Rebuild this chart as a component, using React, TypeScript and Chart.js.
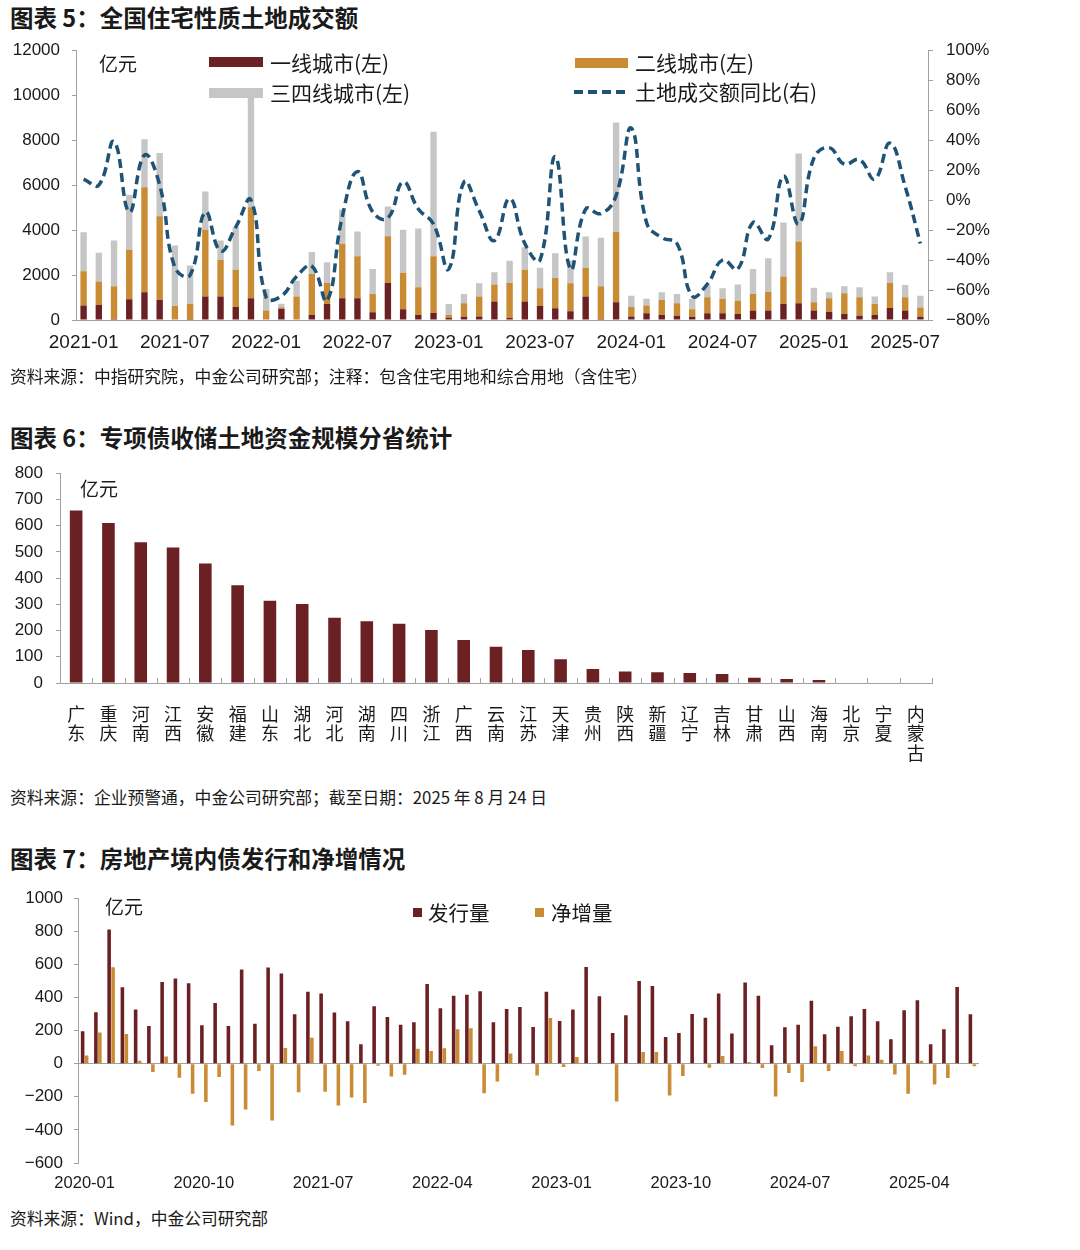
import React, { useEffect, useRef } from 'react';
import { Chart, registerables } from 'chart.js';

Chart.register(...registerables);

const FONT = "'Liberation Sans', 'Noto Sans CJK SC', sans-serif";
const CJK = "'Noto Sans CJK SC', 'Liberation Sans', sans-serif";
const DARK = '#6b2023';
const GOLD = '#c98b34';
const GREY = '#c6c6c6';
const LINE = '#1f5375';
const AXIS = '#a0a0a0';
const TEXT = '#1a1a1a';

// ---------- Chart 5: land transaction value ----------
const months1 = [
  '2021-01','2021-02','2021-03','2021-04','2021-05','2021-06','2021-07','2021-08','2021-09','2021-10','2021-11','2021-12',
  '2022-01','2022-02','2022-03','2022-04','2022-05','2022-06','2022-07','2022-08','2022-09','2022-10','2022-11','2022-12',
  '2023-01','2023-02','2023-03','2023-04','2023-05','2023-06','2023-07','2023-08','2023-09','2023-10','2023-11','2023-12',
  '2024-01','2024-02','2024-03','2024-04','2024-05','2024-06','2024-07','2024-08','2024-09','2024-10','2024-11','2024-12',
  '2025-01','2025-02','2025-03','2025-04','2025-05','2025-06','2025-07','2025-08',
];
const tier1 = [
  640, 670, 40, 920, 1230, 890, 20, 10, 1050, 1050, 580, 970,
  0, 490, 0, 220, 710, 970, 970, 340, 1650, 480, 220, 310,
  90, 150, 160, 820, 90, 820, 620, 520, 390, 1050, 50, 790,
  160, 300, 220, 190, 150, 300, 300, 270, 420, 420, 710, 740,
  420, 370, 270, 190, 220, 530, 420, 150,
];
const tier2 = [
  1530, 1040, 1460, 2200, 4670, 3730, 600, 700, 2960, 1620, 1660, 4050,
  420, 80, 1050, 1830, 940, 2420, 1870, 820, 2080, 1620, 1240, 2530,
  130, 590, 880, 760, 1560, 1410, 790, 1350, 1240, 1270, 1450, 3120,
  430, 340, 670, 550, 330, 710, 640, 590, 740, 840, 1220, 2750,
  370, 600, 920, 820, 490, 1120, 590, 410,
];
const tier34 = [
  1730, 1280, 2040, 2450, 2140, 2810, 2690, 1710, 1710, 870, 1890, 4930,
  960, 150, 700, 970, 920, 1530, 1100, 1110, 1320, 1910, 2610, 5530,
  490, 420, 590, 540, 990, 1010, 910, 1100, 1010, 1390, 2160, 4870,
  490, 300, 340, 420, 460, 520, 470, 720, 1110, 1490, 2410, 3910,
  640, 260, 310, 450, 340, 470, 550, 520,
];
const landYoY = [
  14, 10, 39, -8, 30, 10, -45, -50, -8, -34, -18, 0,
  -65, -64, -51, -44, -67, -11, 19, -8, -12, 12, -6, -16,
  -46, 12, -7, -27, 1, -29, -40, 29, -46, -6, -9, 3,
  48, -15, -25, -29, -64, -56, -40, -46, -15, -26, 16, -16,
  28, 35, 24, 27, 14, 38, 9, -29,
];

// ---------- Chart 6: special bonds by province ----------
const provinces = [
  ['广', '东'], ['重', '庆'], ['河', '南'], ['江', '西'], ['安', '徽'], ['福', '建'], ['山', '东'],
  ['湖', '北'], ['河', '北'], ['湖', '南'], ['四', '川'], ['浙', '江'], ['广', '西'], ['云', '南'],
  ['江', '苏'], ['天', '津'], ['贵', '州'], ['陕', '西'], ['新', '疆'], ['辽', '宁'], ['吉', '林'],
  ['甘', '肃'], ['山', '西'], ['海', '南'], ['北', '京'], ['宁', '夏'], ['内', '蒙', '古'],
];
const provinceFunds = [
  658, 610, 537, 517, 456, 373, 314, 301, 249, 235, 226, 202, 164, 138,
  126, 91, 53, 44, 41, 38, 34, 20, 15, 11, 0, 0, 0,
];

// ---------- Chart 7: real estate domestic bonds ----------
const months3 = [
  '2020-01','2020-02','2020-03','2020-04','2020-05','2020-06','2020-07','2020-08','2020-09','2020-10','2020-11','2020-12',
  '2021-01','2021-02','2021-03','2021-04','2021-05','2021-06','2021-07','2021-08','2021-09','2021-10','2021-11','2021-12',
  '2022-01','2022-02','2022-03','2022-04','2022-05','2022-06','2022-07','2022-08','2022-09','2022-10','2022-11','2022-12',
  '2023-01','2023-02','2023-03','2023-04','2023-05','2023-06','2023-07','2023-08','2023-09','2023-10','2023-11','2023-12',
  '2024-01','2024-02','2024-03','2024-04','2024-05','2024-06','2024-07','2024-08','2024-09','2024-10','2024-11','2024-12',
  '2025-01','2025-02','2025-03','2025-04','2025-05','2025-06','2025-07','2025-08',
];
const issuance = [
  196, 311, 811, 462, 327, 228, 494, 515, 486, 232, 367, 228,
  569, 242, 581, 545, 299, 434, 424, 309, 256, 117, 347, 282,
  236, 250, 482, 335, 410, 416, 438, 250, 331, 343, 222, 434,
  258, 327, 585, 408, 186, 293, 500, 470, 161, 186, 301, 278,
  424, 182, 490, 410, 111, 220, 236, 381, 178, 224, 287, 331,
  256, 147, 323, 383, 117, 208, 464, 299,
];
const netIssuance = [
  50, 188, 583, 180, 18, -50, 44, -85, -182, -232, -81, -373,
  -276, -44, -343, 95, -172, 157, -169, -252, -204, -238, -12, -77,
  -67, 91, 77, 93, 208, 214, -178, -107, 61, 0, -71, 276,
  -20, 40, 0, 2, -228, 0, 71, 71, -192, -75, 0, -24,
  46, -4, 10, -26, -198, -56, -111, 105, -44, 77, -16, 50,
  24, -65, -182, 18, -125, -87, 0, -16,
];

const minus = (v: number) => (v < 0 ? '\u2212' + Math.abs(v) : String(v));

const tickFont = { family: FONT, size: 17 };

const landConfig = (): any => ({
  type: 'bar',
  data: {
    labels: months1,
    datasets: [
      {
        type: 'line', label: '土地成交额同比(右)', data: landYoY, yAxisID: 'y1',
        borderColor: LINE, borderWidth: 3.5, borderDash: [9, 5], pointRadius: 0,
        tension: 0.45, fill: false, order: 0,
      },
      { label: '一线城市(左)', data: tier1, backgroundColor: DARK, yAxisID: 'y', order: 1, barPercentage: 0.42, categoryPercentage: 1 },
      { label: '二线城市(左)', data: tier2, backgroundColor: GOLD, yAxisID: 'y', order: 1, barPercentage: 0.42, categoryPercentage: 1 },
      { label: '三四线城市(左)', data: tier34, backgroundColor: GREY, yAxisID: 'y', order: 1, barPercentage: 0.42, categoryPercentage: 1 },
    ],
  },
  options: {
    responsive: false,
    animation: false,
    layout: { padding: 0 },
    plugins: { legend: { display: false }, tooltip: { enabled: false } },
    scales: {
      x: {
        stacked: true,
        grid: { display: false, drawTicks: false },
        border: { color: AXIS },
        ticks: {
          autoSkip: false, maxRotation: 0, minRotation: 0, color: TEXT,
          font: { family: FONT, size: 19 }, padding: 11,
          callback: (_v: any, i: number) => (i % 6 === 0 ? months1[i] : ''),
        },
        afterFit: (s: any) => { s.height = 45; },
      },
      y: {
        stacked: true, min: 0, max: 12000,
        ticks: { stepSize: 2000, color: TEXT, font: tickFont, padding: 12, callback: (v: number) => String(v) },
        grid: { drawOnChartArea: false, tickLength: 4, color: AXIS },
        border: { color: AXIS },
        afterFit: (s: any) => { s.width = 76; },
      },
      y1: {
        position: 'right', min: -80, max: 100,
        ticks: { stepSize: 20, color: TEXT, font: tickFont, padding: 13, callback: (v: number) => minus(v) + '%' },
        grid: { drawOnChartArea: false, tickLength: 5, color: AXIS },
        border: { color: AXIS },
        afterFit: (s: any) => { s.width = 72; },
      },
    },
  },
});

const categoryMarks = {
  id: 'categoryMarks',
  afterDatasetsDraw(chart: any) {
    const { ctx, chartArea } = chart;
    const n = chart.data.labels.length;
    const step = (chartArea.right - chartArea.left) / n;
    ctx.save();
    ctx.strokeStyle = AXIS;
    ctx.lineWidth = 1;
    for (let i = 1; i <= n; i++) {
      const px = Math.round(chartArea.left + i * step) + 0.5;
      ctx.beginPath();
      ctx.moveTo(px, chartArea.bottom);
      ctx.lineTo(px, chartArea.bottom - 5);
      ctx.stroke();
    }
    ctx.restore();
  },
};

const provinceConfig = (): any => ({
  type: 'bar',
  data: {
    labels: provinces,
    datasets: [
      { label: '专项债收储土地资金', data: provinceFunds, backgroundColor: DARK, barPercentage: 0.39, categoryPercentage: 1 },
    ],
  },
  options: {
    responsive: false,
    animation: false,
    layout: { padding: { top: 0, right: 28, bottom: 0, left: 0 } },
    plugins: { legend: { display: false }, tooltip: { enabled: false } },
    scales: {
      x: {
        grid: { display: false, drawTicks: false },
        border: { color: AXIS },
        ticks: {
          autoSkip: false, maxRotation: 0, minRotation: 0, color: TEXT,
          font: { family: CJK, size: 18, lineHeight: 1.06 }, padding: 22,
        },
        afterFit: (s: any) => { s.height = 97; },
      },
      y: {
        min: 0, max: 800,
        ticks: { stepSize: 100, color: TEXT, font: tickFont, padding: 13, callback: (v: number) => String(v) },
        grid: { drawOnChartArea: false, tickLength: 4, color: AXIS },
        border: { color: AXIS },
        afterFit: (s: any) => { s.width = 60; },
      },
    },
  },
  plugins: [categoryMarks],
});

const bondConfig = (): any => ({
  type: 'bar',
  data: {
    labels: months3,
    datasets: [
      { label: '发行量', data: issuance, backgroundColor: DARK, barPercentage: 0.9, categoryPercentage: 0.6 },
      { label: '净增量', data: netIssuance, backgroundColor: GOLD, barPercentage: 0.9, categoryPercentage: 0.6 },
    ],
  },
  options: {
    responsive: false,
    animation: false,
    layout: { padding: { top: 0, right: 21, bottom: 0, left: 0 } },
    plugins: { legend: { display: false }, tooltip: { enabled: false } },
    scales: {
      x: {
        grid: { display: false, drawTicks: false },
        border: { display: false },
        ticks: {
          autoSkip: false, maxRotation: 0, minRotation: 0, color: TEXT,
          font: { family: FONT, size: 16.5 }, padding: 11,
          callback: (_v: any, i: number) => (i % 9 === 0 ? months3[i] : ''),
        },
        afterFit: (s: any) => { s.height = 42; },
      },
      y: {
        min: -600, max: 1000,
        ticks: { stepSize: 200, color: TEXT, font: tickFont, padding: 11, callback: (v: number) => minus(v) },
        grid: {
          drawOnChartArea: true, tickLength: 4, tickColor: AXIS,
          color: (c: any) => (c.tick && c.tick.value === 0 ? AXIS : 'rgba(0,0,0,0)'),
        },
        border: { color: AXIS },
        afterFit: (s: any) => { s.width = 78; },
      },
    },
  },
});

function ChartBox({ make, left, top, width, height }: any) {
  const ref = useRef<HTMLCanvasElement>(null);
  useEffect(() => {
    const chart = new Chart(ref.current as HTMLCanvasElement, make());
    return () => chart.destroy();
  }, []);
  return (
    <canvas
      ref={ref}
      width={width}
      height={height}
      style={{ position: 'absolute', left, top, width, height }}
    />
  );
}

function T({ x, cy, size, bold, children }: any) {
  return (
    <div
      style={{
        position: 'absolute', left: x, top: cy - size * 0.6, fontSize: size, lineHeight: `${size * 1.2}px`,
        fontWeight: bold ? 700 : 400, whiteSpace: 'nowrap', color: TEXT, fontFamily: CJK,
      }}
    >
      {children}
    </div>
  );
}

function Swatch({ x, y, w, h, color }: any) {
  return <div style={{ position: 'absolute', left: x, top: y, width: w, height: h, background: color }} />;
}

export default function App() {
  return (
    <div style={{ position: 'absolute', left: 0, top: 0, width: 1080, height: 1250, background: '#fff', overflow: 'hidden' }}>
      <T x={10} cy={17} size={23.5} bold>图表 5：全国住宅性质土地成交额</T>
      <ChartBox make={landConfig} left={0} top={27} width={1000} height={338} />
      <T x={99} cy={63} size={19}>亿元</T>
      <Swatch x={209} y={57} w={54} h={10} color={DARK} />
      <T x={270} cy={63} size={21}>一线城市(左)</T>
      <Swatch x={209} y={88} w={54} h={10} color={GREY} />
      <T x={270} cy={93} size={21}>三四线城市(左)</T>
      <Swatch x={575} y={58} w={53} h={10} color={GOLD} />
      <T x={635} cy={63} size={21}>二线城市(左)</T>
      <svg style={{ position: 'absolute', left: 573, top: 86, width: 58, height: 12 }} width={58} height={12}>
        <line x1={1} y1={6} x2={57} y2={6} stroke={LINE} strokeWidth={4} strokeDasharray="9 5" />
      </svg>
      <T x={635} cy={92} size={21}>土地成交额同比(右)</T>
      <T x={10} cy={376} size={16.8}>资料来源：中指研究院，中金公司研究部；注释：包含住宅用地和综合用地（含住宅）</T>

      <T x={10} cy={437} size={23.5} bold>图表 6：专项债收储土地资金规模分省统计</T>
      <ChartBox make={provinceConfig} left={0} top={450} width={960} height={330} />
      <T x={80} cy={488} size={19}>亿元</T>
      <T x={10} cy={797} size={16.8}>资料来源：企业预警通，中金公司研究部；截至日期：2025 年 8 月 24 日</T>

      <T x={10} cy={858} size={23.5} bold>图表 7：房地产境内债发行和净增情况</T>
      <ChartBox make={bondConfig} left={0} top={877} width={1000} height={328} />
      <T x={105} cy={906} size={19}>亿元</T>
      <Swatch x={413} y={908} w={9} h={9} color={DARK} />
      <T x={428} cy={912} size={20.5}>发行量</T>
      <Swatch x={535} y={908} w={9} h={9} color={GOLD} />
      <T x={551} cy={912} size={20.5}>净增量</T>
      <T x={10} cy={1218} size={16.8}>资料来源：Wind，中金公司研究部</T>
    </div>
  );
}
